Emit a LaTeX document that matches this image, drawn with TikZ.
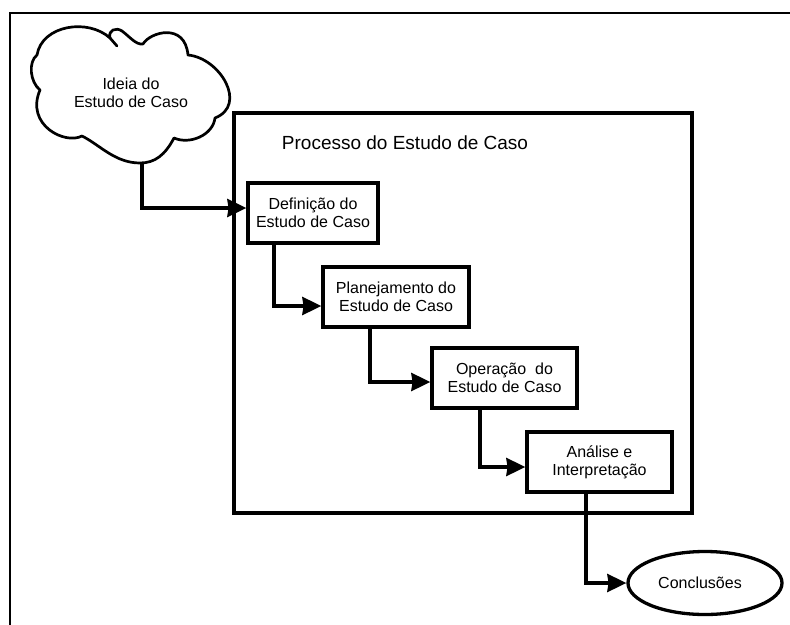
\documentclass[tikz,border=0pt]{standalone}
\usepackage{fontspec}
\setmainfont{Liberation Sans}
\usetikzlibrary{arrows.meta,shapes.geometric}
\begin{document}
\begin{tikzpicture}[x=1pt,y=-1pt,
  stagebox/.style={draw,line width=3.3pt,minimum height=60pt,inner sep=0pt,
    align=center,font=\fontsize{16}{18}\selectfont},
  flow/.style={line width=3.2pt,-{Stealth[length=19pt,width=18pt,inset=1.2pt]}},
  plaintext/.style={align=center,font=\fontsize{16}{18}\selectfont}]
\useasboundingbox (0,0) rectangle (790,624);

% outer frame, running off the right and bottom edges
\draw[line width=2.5pt] (10,640) -- (10,13) -- (800,13);

% process frame and its title
\node[draw,line width=3.3pt,minimum width=458pt,minimum height=400pt,inner sep=0pt] (process) at (463,313) {};
\node[font=\fontsize{19}{22}\selectfont] (title) at (405,143) {Processo do Estudo de Caso};

% idea cloud
\draw[line width=2.7pt,line join=round,fill=white]
  (37,55) .. controls (42,25) and (88,18) .. (110,38)
  .. controls (108,30) and (116,27) .. (122,31)
  .. controls (130,37) and (136,45) .. (143,44)
  .. controls (150,32) and (185,22) .. (188,55)
  .. controls (220,58) and (248,105) .. (215,118)
  .. controls (213,135) and (190,145) .. (174,138)
  .. controls (165,155) and (155,163) .. (140,163)
  .. controls (115,163) and (100,145) .. (82,136)
  .. controls (65,145) and (25,125) .. (40,90)
  .. controls (30,82) and (28,62) .. (37,55) -- cycle;
\draw[line width=2.7pt,line cap=round] (110,38) -- (117,46);
\node[plaintext] (idea) at (131,93) {Ideia do\\Estudo de Caso};
\coordinate (ideabase) at (142,163);

% stages
\node[stagebox,minimum width=130pt] (def) at (313,213) {Definição do\\Estudo de Caso};
\node[stagebox,minimum width=146pt] (plan) at (396,297) {Planejamento do\\Estudo de Caso};
\node[stagebox,minimum width=145pt] (oper) at (504.5,378) {Operação~ do\\Estudo de Caso};
\node[stagebox,minimum width=145pt] (anal) at (599.5,462) {Análise e\\Interpretação};
\node[draw,ellipse,line width=3.3pt,minimum width=154pt,minimum height=63pt,inner sep=0pt,
  font=\fontsize{16}{18}\selectfont] (concl) at (705,583) {\kern-10pt Conclusões};

% connectors
\draw[flow] (ideabase) |- ([yshift=5pt]def.west);
\draw[flow] ([xshift=-39pt]def.south) |- ([yshift=-9pt]plan.west);
\draw[flow] ([xshift=-26pt]plan.south) |- ([yshift=-4pt]oper.west);
\draw[flow] ([xshift=-24.5pt]oper.south) |- ([yshift=-5pt]anal.west);
\draw[flow] ([xshift=-13.5pt]anal.south) |- (concl.west);
\end{tikzpicture}
\end{document}
